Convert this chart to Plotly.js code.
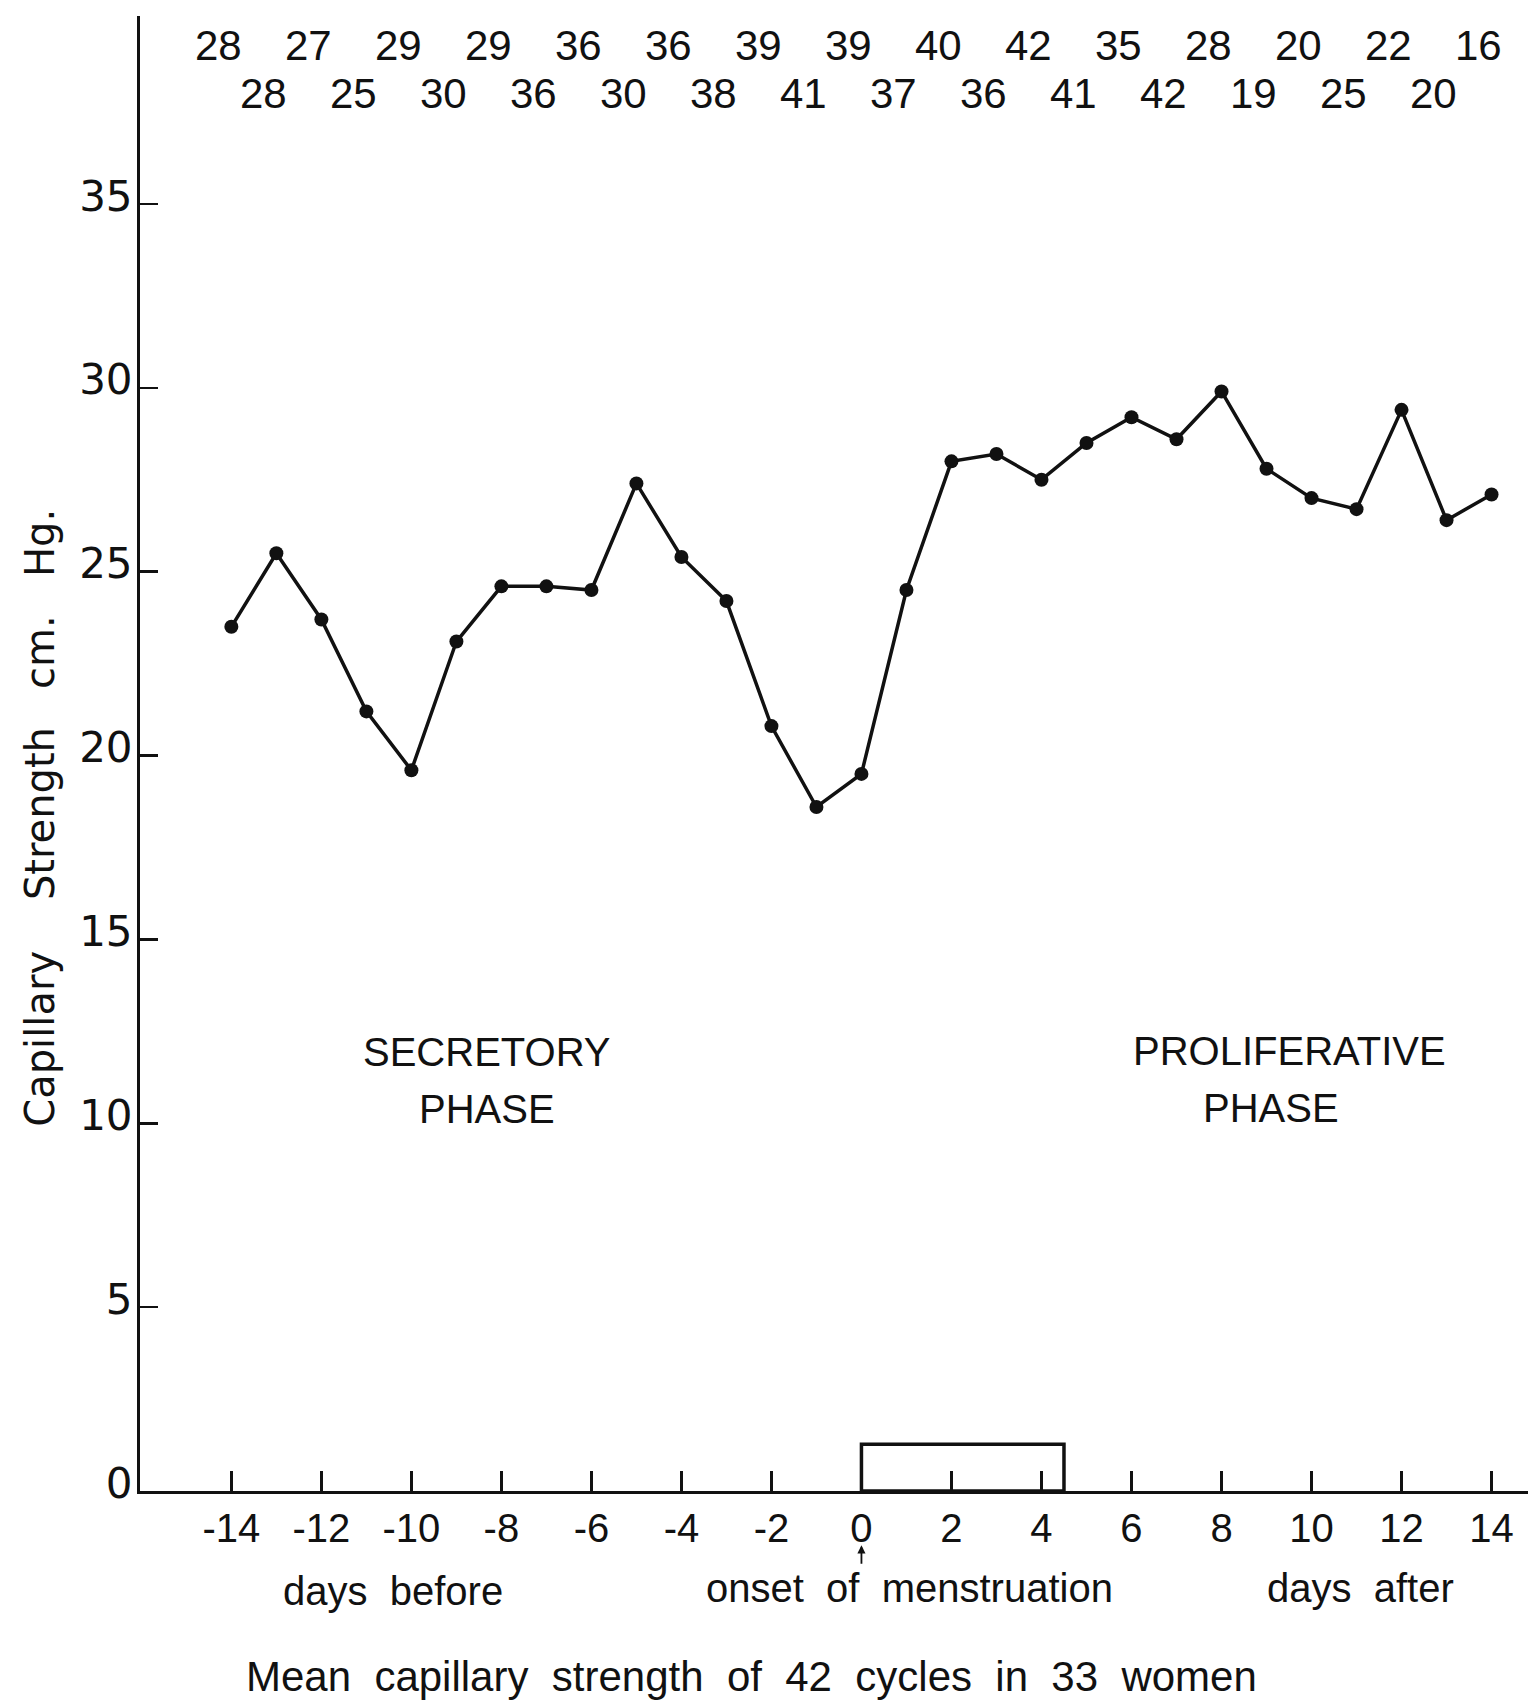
<!DOCTYPE html>
<html><head><meta charset="utf-8">
<script src="https://cdn.plot.ly/plotly-3.0.1.min.js"></script>
<style>html,body{margin:0;padding:0;background:#fff;}#chart{width:1528px;height:1703px;}</style>
</head><body><div id="chart"></div>
<script>
// Day relative to onset of menstruation
const days = [-14,-13,-12,-11,-10,-9,-8,-7,-6,-5,-4,-3,-2,-1,0,1,2,3,4,5,6,7,8,9,10,11,12,13,14];
// Mean capillary strength, cm Hg
const strength = [23.5,25.5,23.7,21.2,19.6,23.1,24.6,24.6,24.5,27.4,25.4,24.2,20.8,18.6,19.5,24.5,28.0,28.2,27.5,28.5,29.2,28.6,29.9,27.8,27.0,26.7,29.4,26.4,27.1];
// Number of cycles observed on each day
const counts = [28,28,27,25,29,30,29,36,36,30,36,38,39,41,39,37,40,36,42,41,35,42,28,19,20,25,22,20,16];
const xTickVals = [-14,-12,-10,-8,-6,-4,-2,0,2,4,6,8,10,12,14];
const xTickText = ["-14","-12","-10","-8","-6","-4","-2","0","2","4","6","8","10","12","14"];
const yTickVals = [0,5,10,15,20,25,30,35];
const yTickText = ["0","5","10","15","20","25","30","35"];
const mensesDays = [0, 4.5];
const mensesLevel = 1.27;
const NB = "\u00a0";
const yTitle = "Capillary" + NB.repeat(4) + "Strength" + NB.repeat(3) + "cm." + NB.repeat(3) + "Hg.";
const caption = ["Mean","capillary","strength","of","42","cycles","in","33","women"];
const labelBefore = "days" + NB + NB + "before";
const labelOnset = "onset" + NB + NB + "of" + NB + NB + "menstruation";
const labelAfter = "days" + NB + NB + "after";

const INK = "#111";
const F = "Liberation Sans, Arial, sans-serif";
const FD = "DejaVu Sans, sans-serif";

const ann = [];
counts.forEach((n, i) => {
  ann.push({x: days[i], y: (i % 2 === 0) ? 39.3 : 38.0, xref: "x", yref: "y",
    text: String(n), showarrow: false, xshift: -13,
    font: {family: F, size: 42, color: INK}});
});
ann.push({x: -8.33, y: 11.95, xref: "x", yref: "y", text: "SECRETORY", showarrow: false, font: {family: F, size: 40, color: INK}});
ann.push({x: -8.33, y: 10.4, xref: "x", yref: "y", text: "PHASE", showarrow: false, font: {family: F, size: 40, color: INK}});
ann.push({x: 9.51, y: 11.97, xref: "x", yref: "y", text: "PROLIFERATIVE", showarrow: false, font: {family: F, size: 40, color: INK}});
ann.push({x: 9.1, y: 10.42, xref: "x", yref: "y", text: "PHASE", showarrow: false, font: {family: F, size: 40, color: INK}});
// small arrow under the 0 tick
ann.push({x: 0, y: -0.0368, xref: "x", yref: "paper", text: "", showarrow: true,
  ax: 0, ay: 20, arrowhead: 2, arrowsize: 0.9, arrowwidth: 1.8, arrowcolor: INK, standoff: 0});
ann.push({x: -10.4, y: -0.0678, xref: "x", yref: "paper", yanchor: "middle", text: labelBefore, showarrow: false, font: {family: F, size: 40, color: INK}});
ann.push({x: 1.06, y: -0.0658, xref: "x", yref: "paper", yanchor: "middle", text: labelOnset, showarrow: false, font: {family: F, size: 40, color: INK}});
ann.push({x: 11.08, y: -0.0658, xref: "x", yref: "paper", yanchor: "middle", text: labelAfter, showarrow: false, font: {family: F, size: 40, color: INK}});
ann.push({x: -2.45, y: -0.1255, xref: "x", yref: "paper", yanchor: "middle", text: caption.join(NB + NB), showarrow: false, font: {family: F, size: 42, color: INK}});
ann.push({x: -0.072, y: 0.4565, xref: "paper", yref: "paper", xanchor: "center", yanchor: "middle", text: yTitle, textangle: -90, showarrow: false, font: {family: FD, size: 40, color: INK}});

const trace = {
  x: days, y: strength, type: "scatter", mode: "lines+markers",
  line: {color: INK, width: 3.5}, marker: {color: INK, size: 14},
  cliponaxis: false, hoverinfo: "skip"
};

const layout = {
  width: 1528, height: 1703,
  margin: {l: 140, r: 0, t: 16, b: 212},
  paper_bgcolor: "#fff", plot_bgcolor: "#fff",
  showlegend: false,
  xaxis: {
    range: [-16.03, 14.81], tickvals: xTickVals, ticktext: xTickText,
    ticks: "inside", ticklen: 20, tickwidth: 2.5, tickcolor: INK,
    showline: true, linewidth: 3, linecolor: INK,
    showgrid: false, zeroline: false,
    tickfont: {family: F, size: 40, color: INK},
    ticklabelstandoff: 0
  },
  yaxis: {
    range: [0, 40.11], tickvals: yTickVals, ticktext: yTickText,
    ticks: "inside", ticklen: 18, tickwidth: 2.5, tickcolor: INK,
    showline: true, linewidth: 3, linecolor: INK,
    showgrid: false, zeroline: false,
    tickfont: {family: FD, size: 42, color: INK},
    ticklabelstandoff: -4, ticklabelshift: -8
  },
  shapes: [{type: "rect", xref: "x", yref: "y", x0: mensesDays[0], x1: mensesDays[1], y0: 0, y1: mensesLevel,
    line: {color: INK, width: 3.5}, fillcolor: "rgba(0,0,0,0)"}],
  annotations: ann
};

Plotly.newPlot("chart", [trace], layout, {staticPlot: true, displayModeBar: false});
</script>
</body></html>
